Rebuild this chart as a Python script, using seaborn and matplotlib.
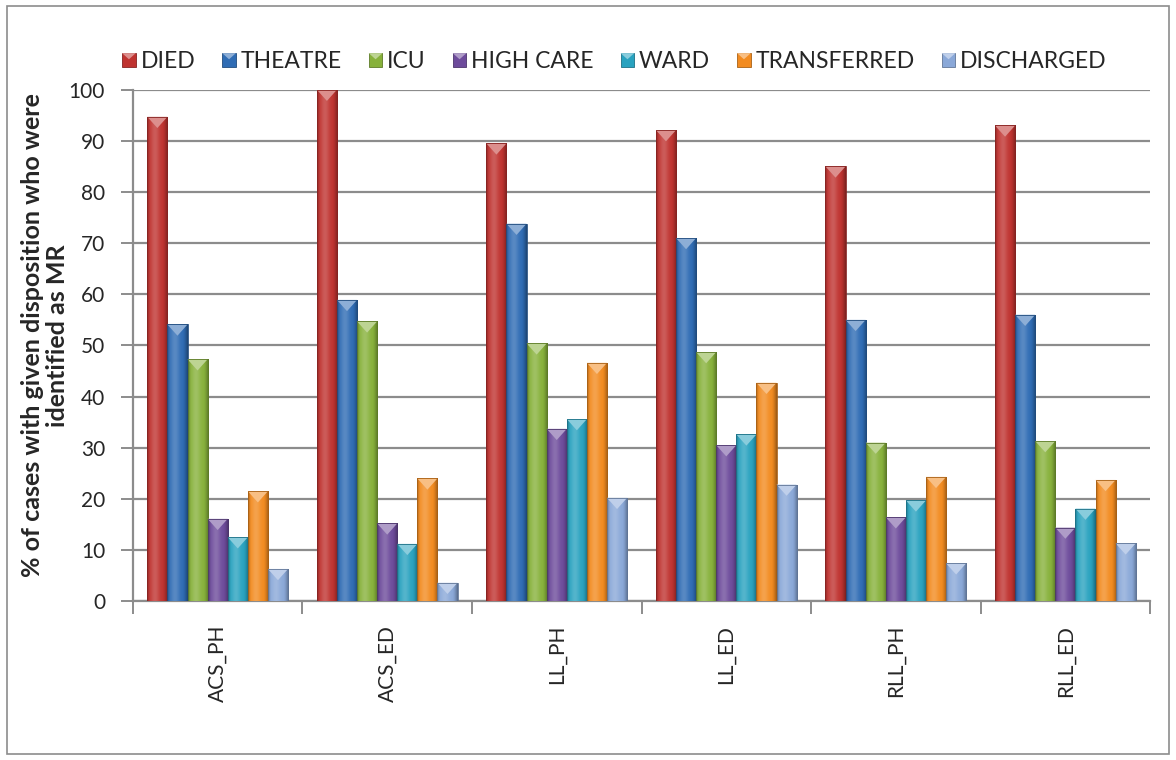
import numpy as np
import pandas as pd
import matplotlib
matplotlib.use("Agg")
import matplotlib.pyplot as plt
import matplotlib.colors as mcolors
from matplotlib.patches import Rectangle, Polygon
from matplotlib.legend_handler import HandlerBase
import seaborn as sns

# Groups along the x axis and disposition series
groups = ["ACS_PH", "ACS_ED", "LL_PH", "LL_ED", "RLL_PH", "RLL_ED"]
dispositions = ["DIED", "THEATRE", "ICU", "HIGH CARE", "WARD", "TRANSFERRED", "DISCHARGED"]

died = [94.7, 100.0, 89.5, 92.1, 85.0, 93.0]
theatre = [54.1, 58.9, 73.8, 71.0, 55.0, 56.0]
icu = [47.3, 54.7, 50.4, 48.7, 31.0, 31.3]
high_care = [16.1, 15.2, 33.7, 30.5, 16.4, 14.4]
ward = [12.5, 11.2, 35.6, 32.6, 19.7, 18.1]
transferred = [21.5, 24.0, 46.6, 42.7, 24.3, 23.7]
discharged = [6.3, 3.6, 20.2, 22.8, 7.4, 11.3]

series = [died, theatre, icu, high_care, ward, transferred, discharged]
colors = ["#bf3330", "#2f6cb4", "#87b13b", "#6d4b9b", "#29a2bf", "#f28b20", "#8aa8d8"]

y_label = "% of cases with given disposition who were\nidentified as MR"

df = pd.DataFrame({
    "group": np.repeat([groups], len(dispositions), axis=0).ravel(),
    "disposition": np.repeat(dispositions, len(groups)),
    "value": np.concatenate(series),
})

sns.set_theme(style="white")
plt.rcParams["font.family"] = ["Lato", "DejaVu Sans"]

fig = plt.figure(figsize=(11.76, 7.6), dpi=100)
ax = fig.add_axes([0.113, 0.209, 0.865, 0.673])

sns.barplot(data=df, x="group", y="value", hue="disposition", order=groups,
            hue_order=dispositions, palette=colors, width=0.83, saturation=1,
            edgecolor="none", linewidth=0, ax=ax, legend=False, zorder=3)


def shade_row(color, n=32):
    """Horizontal bevel shading: darker edges, bright left-centre."""
    base = np.array(mcolors.to_rgb(color))
    t = np.linspace(0, 1, n)
    light = 0.20 * np.exp(-((t - 0.38) / 0.22) ** 2)
    dark = 0.35 * (np.clip((t - 0.75) / 0.25, 0, 1) ** 1.5) + 0.25 * (np.clip((0.12 - t) / 0.12, 0, 1))
    rgb = base * (1 - dark)[:, None] + (1 - base) * light[:, None]
    return np.clip(rgb, 0, 1)[None, :, :]


ax.set_ylim(0, 100)
ax.set_xlim(-0.5, len(groups) - 0.5)

# Bevelled look: gradient fill clipped to each bar plus a light triangular cap
for container, col in zip(ax.containers, colors):
    for patch in container.patches:
        x, w, h = patch.get_x(), patch.get_width(), patch.get_height()
        if h <= 0:
            continue
        patch.set_facecolor("none")
        im = ax.imshow(shade_row(col), extent=[x, x + w, 0, h], aspect="auto",
                       zorder=3, interpolation="bilinear")
        im.set_clip_path(patch)
        cap = 2.2
        base = np.array(mcolors.to_rgb(col))
        cap_col = base + (1 - base) * 0.45
        ax.add_patch(Polygon([[x, h], [x + w, h], [x + w / 2, h - cap]], closed=True,
                             facecolor=cap_col, edgecolor="none", zorder=4))
        ax.add_patch(Rectangle((x, 0), w, h, facecolor="none",
                               edgecolor=base * 0.7, linewidth=0.6, zorder=4))

ax.set_aspect("auto")

# Axes styling
ax.set_yticks(np.arange(0, 101, 10))
ax.yaxis.grid(True, color="#8c8c8c", linewidth=1.6, zorder=0)
ax.set_axisbelow(True)
for side in ["top", "right"]:
    ax.spines[side].set_visible(False)
for side in ["left", "bottom"]:
    ax.spines[side].set_color("#8c8c8c")
    ax.spines[side].set_linewidth(1.6)

ax.tick_params(axis="y", which="major", direction="out", length=9, width=1.4,
               color="#8c8c8c", labelsize=15, pad=11, left=True)
ax.set_xticks(np.arange(len(groups)))
ax.set_xticklabels(groups, rotation=90, fontsize=15)
ax.set_xticks(np.arange(-0.5, len(groups)), minor=True)
ax.tick_params(axis="x", which="major", length=0, pad=17)
ax.tick_params(axis="x", which="minor", direction="out", length=9, width=1.4,
               color="#8c8c8c", bottom=True)
ax.set_xlabel("")
ax.set_ylabel(y_label, fontsize=18, fontweight="bold", linespacing=1.1)
ax.yaxis.set_label_coords(-0.063, 0.52)


# Legend with bevelled square keys
class BevelKey:
    def __init__(self, color):
        self.color = color


class BevelHandler(HandlerBase):
    def create_artists(self, legend, orig_handle, xdescent, ydescent, width, height, fontsize, trans):
        s = min(width, height) * 1.0
        x0 = xdescent + (width - s)
        y0 = -ydescent + (height - s) / 2
        base = np.array(mcolors.to_rgb(orig_handle.color))
        body = Rectangle((x0, y0), s, s, facecolor=base, edgecolor=base * 0.7,
                         linewidth=0.6, transform=trans)
        cap = Polygon([[x0, y0 + s], [x0 + s, y0 + s], [x0 + s / 2, y0 + s * 0.55]],
                      closed=True, facecolor=base + (1 - base) * 0.45,
                      edgecolor="none", transform=trans)
        return [body, cap]


handles = [BevelKey(c) for c in colors]
fig.legend(handles, dispositions, handler_map={BevelKey: BevelHandler()},
           loc="center left", bbox_to_anchor=(0.096, 0.919), ncol=7, frameon=False,
           fontsize=16.5, handlelength=0.6, handleheight=0.6, handletextpad=0.2,
           columnspacing=1.18, borderaxespad=0)

# Chart-area border
fig.add_artist(Rectangle((0.006, 0.008), 0.988, 0.984, transform=fig.transFigure,
                         facecolor="none", edgecolor="#8c8c8c", linewidth=1.2))

fig.savefig("out.png", dpi=100)
